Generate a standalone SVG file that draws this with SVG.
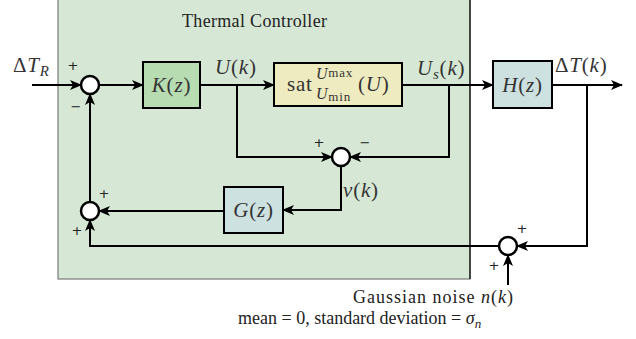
<svg xmlns="http://www.w3.org/2000/svg" width="636" height="339" viewBox="0 0 636 339">
<defs>
<marker id="arr" viewBox="0 0 12 10" refX="11" refY="5" markerWidth="12" markerHeight="10" markerUnits="userSpaceOnUse" orient="auto">
<path d="M0,0 L12,5 L0,10 L3,5 z" fill="#000"/>
</marker>
</defs>
<style>
.ln{fill:none;stroke:#000;stroke-width:2;}
.ar{fill:none;stroke:#000;stroke-width:2;marker-end:url(#arr);}
.sum{fill:#fff;stroke:#000;stroke-width:2.5;}
.box{stroke:#000;stroke-width:2;}
.t{font-family:"Liberation Serif","Times New Roman",serif;fill:#222;}
.m{font-family:"Liberation Serif","Times New Roman",serif;font-style:italic;fill:#333;font-size:21px;letter-spacing:0.8px;}
.u{font-style:normal;}
.s{font-family:"DejaVu Sans",sans-serif;font-size:13px;fill:#222;text-anchor:middle;}
</style>
<rect x="58" y="-5" width="412" height="284" fill="#d6e8d5" stroke="#7a7a7a" stroke-width="1.2"/>
<line x1="470" y1="-5" x2="470" y2="279" stroke="#000" stroke-width="1.2"/>
<text class="t" x="182" y="27" font-size="18" textLength="145">Thermal Controller</text>

<g id="connectors">
<line class="ar" x1="32" y1="85" x2="81" y2="85"/>
<line class="ar" x1="99" y1="85" x2="143" y2="85"/>
<line class="ar" x1="200" y1="85" x2="274" y2="85"/>
<polyline class="ar" points="237,85 237,157 332,157"/>
<line class="ar" x1="402" y1="85" x2="493" y2="85"/>
<polyline class="ar" points="449,85 449,157 350,157"/>
<polyline class="ar" points="341,166 341,210 283,210"/>
<line class="ar" x1="224" y1="211" x2="99" y2="211"/>
<line class="ar" x1="90" y1="202" x2="90" y2="94"/>
<line class="ar" x1="552" y1="85" x2="622" y2="85"/>
<polyline class="ar" points="587,85 587,246 517,246"/>
<polyline class="ar" points="499,246 90,246 90,220"/>
<line class="ar" x1="508" y1="285" x2="508" y2="255"/>
</g>

<g id="sum1"><circle class="sum" cx="90" cy="85" r="9"/><text class="s" x="73" y="70">+</text><text class="s" x="76" y="111">−</text></g>
<g id="sum2"><circle class="sum" cx="341" cy="157" r="9"/><text class="s" x="319" y="147">+</text><text class="s" x="365" y="147">−</text></g>
<g id="sum3"><circle class="sum" cx="90" cy="211" r="9"/><text class="s" x="104" y="198">+</text><text class="s" x="77" y="235">+</text></g>
<g id="sum4"><circle class="sum" cx="508" cy="246" r="9"/><text class="s" x="522" y="233">+</text><text class="s" x="494" y="270">+</text></g>

<g id="K"><rect class="box" x="143" y="62" width="57" height="46" fill="#b8dcb1"/><text class="m" x="171.5" y="92" text-anchor="middle">K<tspan class="u">(</tspan>z<tspan class="u">)</tspan></text></g>
<g id="sat"><rect class="box" x="274" y="63" width="128" height="43" fill="#eeebc0"/>
<text class="m" x="287" y="91"><tspan class="u">sat</tspan><tspan x="316" y="79" font-size="16">U</tspan><tspan class="u" font-size="13" y="77">max</tspan><tspan x="316" y="99" font-size="16">U</tspan><tspan class="u" font-size="13" y="101">min</tspan><tspan class="u" x="358" y="91">(</tspan>U<tspan class="u">)</tspan></text></g>
<g id="H"><rect class="box" x="493" y="61" width="59" height="47" fill="#cde1e0"/><text class="m" x="522.5" y="92" text-anchor="middle">H<tspan class="u">(</tspan>z<tspan class="u">)</tspan></text></g>
<g id="G"><rect class="box" x="224" y="187" width="59" height="46" fill="#cde1e0"/><text class="m" x="253.5" y="217" text-anchor="middle">G<tspan class="u">(</tspan>z<tspan class="u">)</tspan></text></g>

<g id="labels">
<text class="m" x="13" y="72"><tspan class="u">Δ</tspan>T<tspan font-size="15" dy="4">R</tspan></text>
<text class="m" x="215" y="74">U<tspan class="u">(</tspan>k<tspan class="u">)</tspan></text>
<text class="m" x="417" y="75">U<tspan font-size="15" dy="4">s</tspan><tspan class="u" dy="-4">(</tspan>k<tspan class="u">)</tspan></text>
<text class="m" x="555" y="72"><tspan class="u">Δ</tspan>T<tspan class="u">(</tspan>k<tspan class="u">)</tspan></text>
<text class="m" x="343" y="197">v<tspan class="u">(</tspan>k<tspan class="u">)</tspan></text>
<text class="t" x="353" y="303" font-size="18" textLength="160">Gaussian noise <tspan font-style="italic">n</tspan>(<tspan font-style="italic">k</tspan>)</text>
<text class="t" x="238" y="324" font-size="18">mean = 0, standard deviation = <tspan font-style="italic">σ</tspan><tspan font-style="italic" font-size="13" dy="4">n</tspan></text>
</g>
</svg>
